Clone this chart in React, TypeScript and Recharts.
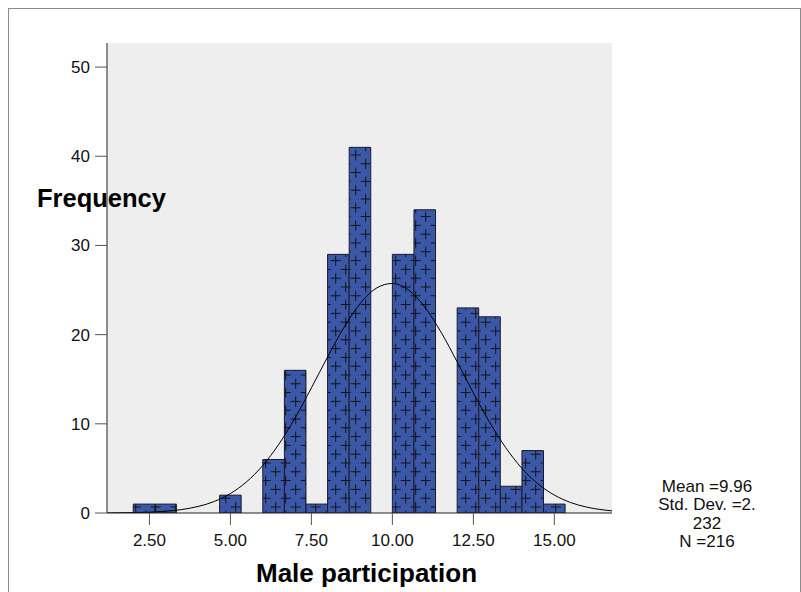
import React from 'react';
import { ComposedChart, Bar, Line, XAxis, YAxis, CartesianGrid } from 'recharts';

// Histogram bins (bin centres, width 2/3) and their frequencies
const binCentres = [2.333, 3.0, 3.667, 4.333, 5.0, 5.667, 6.333, 7.0, 7.667, 8.333, 9.0, 9.667, 10.333, 11.0, 11.667, 12.333, 13.0, 13.667, 14.333, 15.0];
const frequencies = [1, 1, 0, 0, 2, 0, 6, 16, 1, 29, 41, 0, 29, 34, 0, 23, 22, 3, 7, 1];

// Fitted normal curve
const curveX = [1.2, 2, 2.5, 3, 3.5, 4, 4.5, 5, 5.5, 6, 6.5, 7, 7.5, 8, 8.5, 9, 9.5, 10, 10.5, 11, 11.5, 12, 12.5, 13, 13.5, 14, 14.5, 15, 15.5, 16, 16.5, 16.78];
const curveY = [0.01, 0.05, 0.09, 0.2, 0.39, 0.73, 1.29, 2.18, 3.5, 5.33, 7.74, 10.69, 14.03, 17.5, 20.78, 23.47, 25.2, 25.74, 25.0, 23.09, 20.29, 16.95, 13.47, 10.18, 7.32, 5.0, 3.25, 2.01, 1.18, 0.66, 0.35, 0.24];

const xTicks = [2.5, 5, 7.5, 10, 12.5, 15];
const yTicks = [0, 10, 20, 30, 40, 50];
const xDomain: [number, number] = [1.19, 16.78];
const yDomain: [number, number] = [0, 52.7];

const statsLines = ['Mean =9.96', 'Std. Dev. =2.', '232', 'N =216'];

const barData = binCentres.map((x, i) => ({ bin: String(x), count: frequencies[i] }));
const curveData = curveX.map((x, i) => ({ x, fit: curveY[i] }));

const FONT = '"Liberation Sans", Arial, Helvetica, sans-serif';

// plot spans 505 px for xDomain; bins run from 2.0 to 15.333
const PX_PER_UNIT = 505 / (xDomain[1] - xDomain[0]);
const padLeft = (2.0 - xDomain[0]) * PX_PER_UNIT;
const padRight = (xDomain[1] - 15.3333) * PX_PER_UNIT;

export default function App() {
  return (
    <div style={{ position: 'absolute', left: 0, top: 0, width: 801, height: 592, background: '#fff', overflow: 'hidden' }}>
      <div
        style={{
          position: 'absolute',
          left: 8,
          top: 8,
          width: 793,
          height: 620,
          boxSizing: 'border-box',
          border: '1px solid #8a8a8a',
        }}
      />
      <ComposedChart
        width={801}
        height={592}
        data={barData}
        margin={{ top: 43, right: 189, bottom: 39, left: 0 }}
        barCategoryGap={0}
        barGap={0}
        style={{ position: 'absolute', left: 0, top: 0, fontFamily: FONT }}
      >
        <defs>
          <pattern id="plusHatch" patternUnits="userSpaceOnUse" width={20} height={17.6}>
            <rect x={0} y={0} width={20} height={17.6} fill="#3B57A8" />
            <path d="M10.7 14.2 h10 M15.7 9.2 v10 M0.7 5.4 h10 M5.7 0.4 v10 M-9.3 14.2 h10 M-4.3 9.2 v10 M10.7 -3.4 h10 M15.7 -8.4 v10" stroke="#111" strokeWidth={1} />
          </pattern>
        </defs>
        <CartesianGrid fill="#EEEEEE" horizontal={false} vertical={false} />
        <XAxis
          xAxisId="bins"
          dataKey="bin"
          type="category"
          hide
          height={0}
          padding={{ left: padLeft, right: padRight }}
        />
        <XAxis
          xAxisId="num"
          dataKey="x"
          type="number"
          domain={xDomain}
          allowDataOverflow
          ticks={xTicks}
          tickFormatter={(v: number) => v.toFixed(2)}
          tickSize={12}
          tickMargin={9}
          height={40}
          interval={0}
          axisLine={{ stroke: '#222', strokeWidth: 1 }}
          tickLine={{ stroke: '#555', strokeWidth: 1 }}
          tick={{ fill: '#111', fontSize: 17, fontFamily: FONT }}
        />
        <XAxis
          xAxisId="top"
          orientation="top"
          type="number"
          domain={xDomain}
          allowDataOverflow
          height={0}
          tick={false}
          tickLine={false}
          axisLine={{ stroke: '#222', strokeWidth: 1 }}
        />
        <YAxis
          type="number"
          domain={yDomain}
          allowDataOverflow
          ticks={yTicks}
          interval={0}
          width={107}
          tickSize={12}
          tickMargin={5}
          axisLine={{ stroke: '#222', strokeWidth: 1 }}
          tickLine={{ stroke: '#555', strokeWidth: 1 }}
          tick={{ fill: '#111', fontSize: 17, fontFamily: FONT }}
        />
        <YAxis
          yAxisId="right"
          orientation="right"
          type="number"
          domain={yDomain}
          width={0}
          tick={false}
          tickLine={false}
          axisLine={{ stroke: '#222', strokeWidth: 1 }}
        />
        <Bar
          xAxisId="bins"
          dataKey="count"
          barSize={21.55}
          fill="url(#plusHatch)"
          stroke="#1b1b2e"
          strokeWidth={1}
          isAnimationActive={false}
        />
        <Line
          xAxisId="num"
          data={curveData}
          dataKey="fit"
          type="monotone"
          stroke="#000"
          strokeWidth={1}
          dot={false}
          activeDot={false}
          isAnimationActive={false}
        />
      </ComposedChart>
      <svg width={801} height={592} style={{ position: 'absolute', left: 0, top: 0, pointerEvents: 'none' }}>
        <text x={37} y={207} fontFamily={FONT} fontWeight="bold" fontSize={25.5} fill="#000">
          Frequency
        </text>
        <text x={366.5} y={581.5} textAnchor="middle" fontFamily={FONT} fontWeight="bold" fontSize={26} fill="#000">
          Male participation
        </text>
        {statsLines.map((s, i) => (
          <text key={s} x={707} y={491.5 + i * 18.6} textAnchor="middle" fontFamily={FONT} fontSize={17} fill="#111">
            {s}
          </text>
        ))}
      </svg>
    </div>
  );
}
